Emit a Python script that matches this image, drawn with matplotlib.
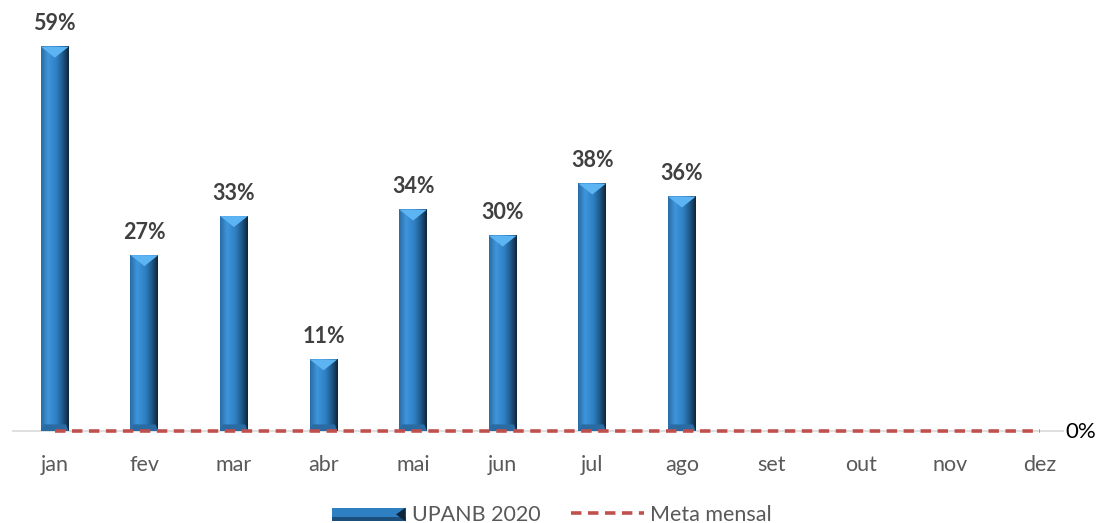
import matplotlib.pyplot as plt
import numpy as np
from matplotlib.colors import LinearSegmentedColormap
from matplotlib.patches import Polygon, Rectangle
from matplotlib.lines import Line2D
from matplotlib.legend_handler import HandlerBase

meses = ['jan', 'fev', 'mar', 'abr', 'mai', 'jun', 'jul', 'ago', 'set', 'out', 'nov', 'dez']
upanb = [0.59, 0.27, 0.33, 0.11, 0.34, 0.30, 0.38, 0.36]
meta = [0.0] * 12

plt.rcParams['font.family'] = ['Lato', 'DejaVu Sans']

# bevel-like gradient for bars (left light -> right dark)
cmap = LinearSegmentedColormap.from_list('bev', [
    (0.0, '#2a6ca6'), (0.25, '#3f95db'), (0.55, '#2f80c3'),
    (0.78, '#1f5a8c'), (1.0, '#10263b')])
grad = np.linspace(0, 1, 64).reshape(1, -1)


class BevelHandler(HandlerBase):
    def create_artists(self, legend, orig, xd, yd, w, h, fs, trans):
        r1 = Rectangle((xd, yd), w, h, facecolor='#2f80c3', edgecolor='none', transform=trans)
        r2 = Rectangle((xd, yd), w, h * 0.35, facecolor='#1c4f7c', edgecolor='none', transform=trans)
        r3 = Polygon([(xd + w, yd), (xd + w, yd + h), (xd + w - h * 0.7, yd + h * 0.5)],
                     closed=True, facecolor='#10263b', edgecolor='none', transform=trans)
        return [r1, r2, r3]


fig = plt.figure(figsize=(11, 5.23), dpi=100)
ax = fig.add_axes([10 / 1100, 92 / 523, 1075 / 1100, 411 / 523])

w = 0.31
px = 0.631 / 411  # data units per pixel on y
for i, v in enumerate(upanb):
    x0, x1 = i - w / 2, i + w / 2
    ax.imshow(grad, cmap=cmap, extent=(x0, x1, 0, v), aspect='auto', zorder=2)
    d = 11 * px
    ax.add_patch(Polygon([(x0, v), (x1, v), (i, v - d)], closed=True,
                         facecolor='#5cb4f2', edgecolor='none', zorder=3))
    ax.add_patch(Polygon([(x0, 0), (x1, 0), (x1 - 0.03, d * 0.6), (x0 + 0.03, d * 0.6)],
                         closed=True, facecolor='#2a6ba3', edgecolor='none', zorder=3))
    ax.text(i, v + 0.019, f'{v:.0%}', ha='center', va='bottom', fontsize=15.5,
            fontweight='bold', color='#404040')

ax.plot([-0.47, 11.25], [0, 0], color='#d9d9d9', lw=1.2, zorder=1, clip_on=False)
ax.plot(range(12), meta, color='#c0504d', lw=2.6, linestyle=(0, (2.9, 1.8)),
        zorder=4, clip_on=False)
fig.text(1065 / 1100, 1 - 432 / 523, '0%', ha='left', va='center', fontsize=16, color='black')

ax.set_xlim(-0.5, 11.5)
ax.set_ylim(0, 0.631)
ax.set_xticks(range(12))
ax.set_xticklabels(meses, fontsize=15.5, color='#595959')
ax.tick_params(axis='x', length=0, pad=17)
ax.set_yticks([])
for s in ax.spines.values():
    s.set_visible(False)

h_bar = Rectangle((0, 0), 1, 1)
h_meta = Line2D([], [], color='#c0504d', lw=2.6, linestyle=(0, (2.9, 1.8)))
fig.legend([h_bar, h_meta], ['UPANB 2020', 'Meta mensal'], loc='lower center',
           bbox_to_anchor=(0.502, -0.04), ncol=2, frameon=False, fontsize=15.5,
           labelcolor='#595959', handlelength=3.4, handleheight=0.6,
           columnspacing=1.4, handletextpad=0.3,
           handler_map={Rectangle: BevelHandler()})

fig.savefig('out.png', dpi=100)
